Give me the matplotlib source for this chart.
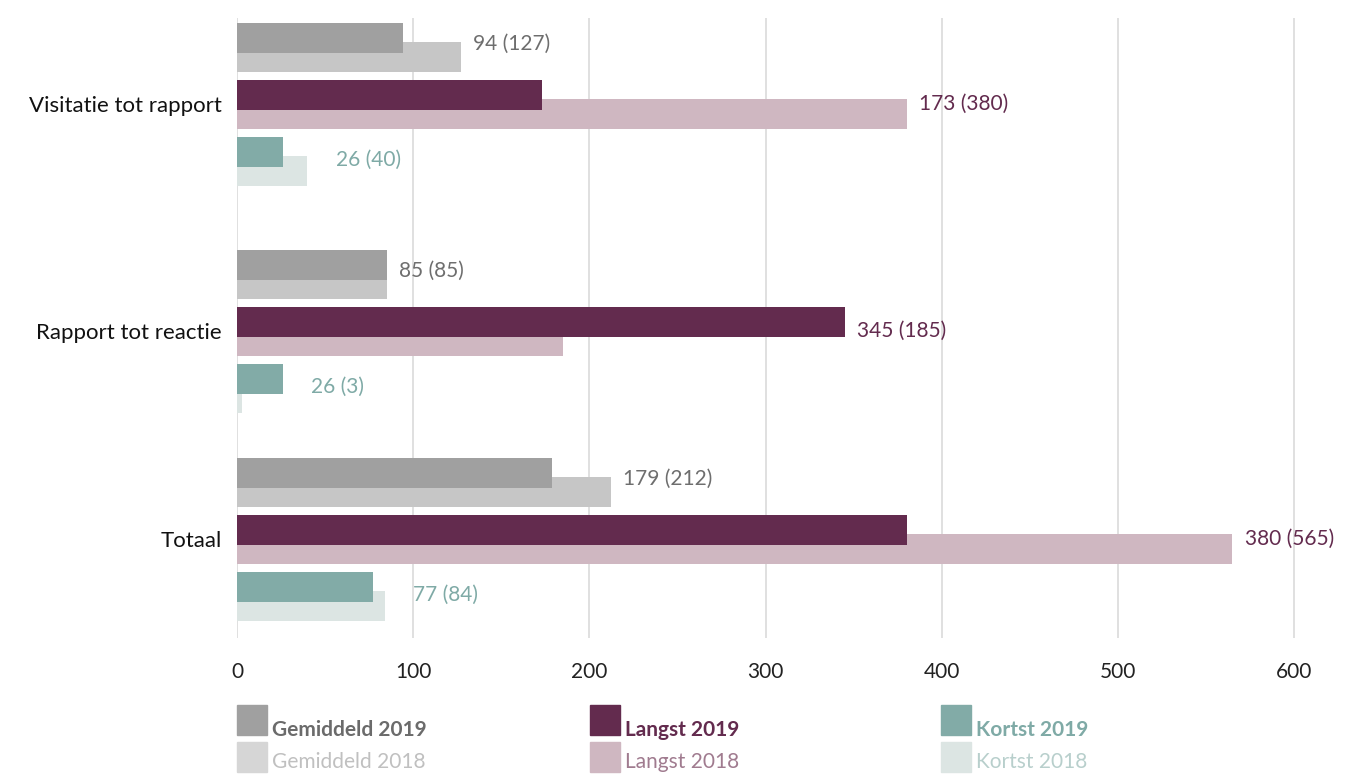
import numpy as np
import matplotlib
matplotlib.use("Agg")
import matplotlib.pyplot as plt
from matplotlib.patches import Rectangle

plt.rcParams['font.family'] = ['Lato', 'DejaVu Sans']

# Data (dagen) - 2019 en 2018
categories = ["Visitatie tot rapport", "Rapport tot reactie", "Totaal"]
gem_2019 = [94, 85, 179]
gem_2018 = [127, 85, 212]
langst_2019 = [173, 345, 380]
langst_2018 = [380, 185, 565]
kortst_2019 = [26, 26, 77]
kortst_2018 = [40, 3, 84]
xticks = [0, 100, 200, 300, 400, 500, 600]

# Layout (y in pixel rows of the axes area)
group_y = np.array([104, 331, 539])
bar_h = 30

series = [
    # (2019 values, 2018 values, offset 2019, offset 2018, color19, color18, label offset y, label dx, text color)
    (gem_2019, gem_2018, -66, -47, "#a0a0a0", "#c6c6c6", -60, 7, "#6e6e6e"),
    (langst_2019, langst_2018, -9, 10, "#632b4e", "#cfb7c1", 0, 7, "#632b4e"),
    (kortst_2019, kortst_2018, 48, 67, "#82aba7", "#dce5e3", 56, 16, "#7faaa6"),
]

fig = plt.figure(figsize=(13.47, 7.74), dpi=100)
ax = fig.add_axes([237 / 1347, 1 - 638 / 774, 1 - 237 / 1347, 620 / 774])

for v19, v18, off19, off18, c19, c18, ly, dx, tc in series:
    ax.barh(group_y + off18, v18, height=bar_h, color=c18, zorder=2)
    ax.barh(group_y + off19, v19, height=bar_h, color=c19, zorder=3)
    for i in range(len(categories)):
        ax.text(max(v19[i], v18[i]) + dx, group_y[i] + ly,
                f"{v19[i]} ({v18[i]})", color=tc, fontsize=15,
                va="center", ha="left", zorder=4)

ax.set_xlim(0, 630)
ax.set_ylim(638, 18)
ax.set_xticks(xticks)
ax.set_xticklabels([str(t) for t in xticks], fontsize=15, color="#222222")
ax.set_yticks(group_y)
ax.set_yticklabels(categories, fontsize=16, color="#111111")
ax.tick_params(axis="both", length=0)
ax.tick_params(axis="x", pad=17)
ax.tick_params(axis="y", pad=11)
for s in ax.spines.values():
    s.set_visible(False)
ax.xaxis.grid(True, color="#dddddd", linewidth=1.3, zorder=0)
ax.set_axisbelow(True)

# Legend, drawn by hand in pixel positions
legend_items = [
    ("Gemiddeld 2019", "Gemiddeld 2018", "#a0a0a0", "#d6d6d6", "#6b6b6b", "#c0c0c0", 237),
    ("Langst 2019", "Langst 2018", "#632b4e", "#cfb7c1", "#632b4e", "#a07b8f", 590),
    ("Kortst 2019", "Kortst 2018", "#82aba7", "#dce5e3", "#7faaa6", "#b8cfcc", 941),
]
W, H = 1347, 774
for lab19, lab18, sq19, sq18, t19, t18, x0 in legend_items:
    fig.patches.append(Rectangle((x0 / W, 1 - 735 / H), 30 / W, 30 / H,
                                 transform=fig.transFigure, color=sq19))
    fig.patches.append(Rectangle((x0 / W, 1 - 772 / H), 30 / W, 30 / H,
                                 transform=fig.transFigure, color=sq18))
    fig.text((x0 + 35) / W, 1 - 736 / H, lab19, color=t19, fontsize=15,
             fontweight="bold", va="baseline", ha="left")
    fig.text((x0 + 35) / W, 1 - 768 / H, lab18, color=t18, fontsize=15,
             fontweight="normal", va="baseline", ha="left")

fig.savefig("out.png", dpi=100)
